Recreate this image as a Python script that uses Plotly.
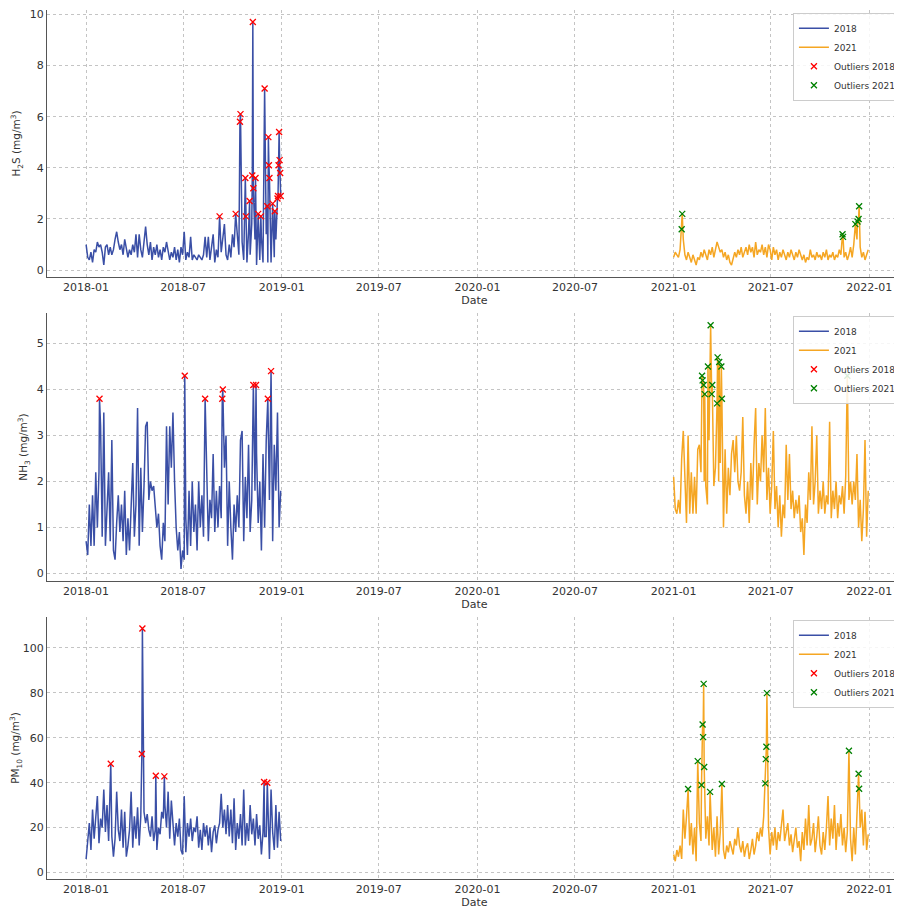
import pandas as pd
import plotly.graph_objects as go

# sampling grid: every 3rd day of the year (day-of-year offsets)
grid_doy = list(range(0, 364, 3))

##############
# H2S (mg/m3)
h2s_2018 = [
    1.0, 0.5, 0.4, 0.7, 0.3, 0.8, 0.7, 1.1, 0.9, 1.0,
    0.7, 0.2, 0.9, 1.0, 0.6, 0.9, 0.6, 0.8, 1.2, 1.5,
    1.1, 0.8, 1.0, 0.6, 1.2, 0.9, 0.5, 0.8, 0.6, 1.0,
    0.7, 1.4, 0.5, 1.4, 0.8, 0.5, 1.2, 1.7, 1.0, 0.6,
    1.1, 0.4, 0.9, 0.6, 1.0, 0.5, 0.8, 0.4, 0.9, 0.7,
    1.1, 0.8, 0.4, 0.7, 0.5, 0.9, 0.4, 0.8, 0.3, 0.9,
    0.6, 1.5, 0.4, 0.7, 0.5, 1.3, 0.4, 0.6, 0.5, 0.4,
    0.6, 0.5, 0.4, 0.6, 1.3, 0.5, 1.3, 0.4, 0.9, 1.4,
    0.3, 0.8, 0.5, 0.6, 0.7, 1.2, 1.8, 0.6, 0.4, 1.0,
    0.5, 1.4, 0.9, 1.0, 1.2, 0.6, 1.0, 1.1, 0.4, 1.2,
    0.3, 1.5, 0.6, 1.8, 1.0, 1.2, 0.2, 1.0, 0.4, 1.3,
    0.3, 1.2, 1.4, 0.3, 1.1, 0.3, 1.0, 0.5, 1.2, 1.0,
    1.0, 3.0,
]
h2s_2021 = [
    0.5, 0.7, 0.6, 0.5, 0.8, 1.0, 1.2, 0.6, 0.4, 0.7,
    0.5, 0.3, 0.6, 0.4, 0.2, 0.5, 0.4, 0.7, 0.5, 0.8,
    0.6, 0.4, 0.8, 0.6, 0.9, 0.5, 0.8, 1.1, 0.9, 0.7,
    0.8, 0.5, 0.7, 0.4, 0.6, 0.3, 0.2, 0.5, 0.7, 0.5,
    0.8, 0.6, 0.9, 0.5, 0.7, 0.9, 0.6, 1.0, 0.7, 0.9,
    0.5, 1.1, 0.6, 0.8, 0.7, 1.0, 0.6, 0.9, 0.5, 1.0,
    0.8, 0.4, 0.9, 0.6, 0.8, 0.4, 0.7, 0.5, 0.8, 0.6,
    0.4, 0.7, 0.5, 0.8, 0.6, 0.4, 0.7, 0.5, 0.8, 0.6,
    0.4, 0.6, 0.3, 0.5, 0.4, 0.8, 0.5, 0.6, 0.4, 0.7,
    0.5, 0.6, 0.4, 0.7, 0.5, 0.8, 0.4, 0.6, 0.5, 0.7,
    0.4, 0.6, 0.5, 0.8, 0.6, 1.0, 0.5, 0.7, 0.4, 0.6,
    0.9, 0.5, 1.0, 1.5, 1.2, 1.4, 0.9, 0.5, 0.7, 0.4,
    0.6, 0.8,
]
h2s_out18_doy = [249, 279, 287, 288, 297, 298, 305, 310, 311, 312, 316, 321, 326, 333,
                 338, 340, 341, 342, 348, 352, 357, 358, 359, 360, 361, 362, 363]
h2s_out18 = [2.1, 2.2, 5.8, 6.1, 3.6, 2.1, 2.7, 3.7, 9.7, 3.2, 3.6, 2.2, 2.1, 7.1,
             2.5, 5.2, 4.1, 3.6, 2.6, 2.3, 2.8, 2.9, 4.1, 5.4, 4.3, 3.8, 2.9]
h2s_out21_doy = [15, 16, 315, 316, 339, 343, 345, 346]
h2s_out21 = [1.6, 2.2, 1.4, 1.3, 1.8, 1.9, 2.0, 2.5]

##############
# NH3 (mg/m3)
nh3_2018 = [
    0.7, 0.4, 1.5, 0.6, 1.7, 0.6, 2.2, 1.0, 2.2, 3.2,
    0.8, 3.5, 0.6, 1.4, 2.2, 0.7, 2.9, 0.5, 0.3, 1.1,
    1.7, 0.9, 1.5, 0.7, 1.8, 0.4, 1.2, 0.5, 1.7, 2.4,
    0.8, 1.5, 3.6, 0.6, 2.3, 0.9, 1.9, 3.2, 3.3, 1.6,
    2.0, 1.8, 1.9, 1.5, 1.0, 1.3, 0.6, 0.3, 1.1, 0.7,
    3.2, 1.5, 3.2, 2.3, 3.5, 2.0, 1.0, 0.5, 0.9, 0.1,
    0.5, 0.3, 1.2, 0.4, 1.8, 0.6, 2.0, 0.9, 1.5, 0.5,
    2.0, 1.0, 1.7, 0.8, 2.4, 2.0, 0.7, 1.6, 1.2, 2.6,
    0.9, 1.8, 1.0, 1.9, 1.2, 2.5, 2.3, 3.0, 0.6, 2.0,
    1.0, 0.3, 1.5, 0.9, 1.7, 1.0, 2.9, 3.1, 0.7, 2.1,
    1.2, 2.8, 0.9, 1.6, 2.2, 1.8, 2.6, 1.1, 2.0, 0.5,
    2.6, 1.0, 2.9, 2.4, 1.6, 2.0, 0.7, 2.8, 1.8, 3.5,
    1.0, 1.8,
]
nh3_2021 = [
    2.1, 1.4, 1.3, 1.6, 1.3, 2.5, 3.1, 2.0, 1.1, 3.0,
    1.3, 2.2, 1.3, 2.1, 1.3, 2.7, 2.8, 2.2, 3.0, 2.0,
    1.9, 1.5, 2.9, 3.2, 2.3, 1.9, 2.3, 2.4, 2.0, 2.4,
    2.6, 1.0, 2.7, 1.3, 2.3, 1.7, 2.6, 2.9, 2.2, 3.0,
    2.0, 1.8, 2.2, 3.4, 1.7, 1.3, 2.0, 1.1, 2.4, 1.6,
    2.8, 3.6, 1.5, 2.4, 2.0, 3.0, 2.2, 3.6, 1.6, 2.3,
    1.3, 1.9, 3.1, 1.4, 1.9, 1.0, 1.7, 0.8, 1.5, 1.2,
    2.8, 1.6, 2.6, 1.4, 1.8, 1.2, 1.6, 1.3, 1.7, 0.9,
    1.2, 0.4, 1.5, 1.1, 2.2, 1.6, 3.2, 1.5, 2.0, 3.0,
    1.3, 1.8, 1.4, 2.0, 1.3, 1.7, 1.5, 3.3, 1.2, 1.8,
    1.4, 2.0, 1.2, 1.7, 1.5, 1.9, 1.3, 2.1, 2.0, 1.6,
    2.0, 1.5, 2.0, 1.6, 2.6, 1.0, 1.6, 0.7, 1.4, 2.9,
    0.8, 1.8,
]
nh3_out18_doy = [25, 184, 222, 254, 255, 312, 317, 339, 345]
nh3_out18 = [3.8, 4.3, 3.8, 3.8, 4.0, 4.1, 4.1, 3.8, 4.4]
nh3_out21_doy = [53, 54, 56, 58, 64, 69, 71, 72, 81, 82, 85, 89, 90, 324]
nh3_out21 = [4.3, 4.2, 4.1, 3.9, 4.5, 5.4, 3.9, 4.1, 3.7, 4.7, 4.6, 4.5, 3.8, 4.3]

##############
# PM10 (mg/m3)
pm10_2018 = [
    6, 13, 22, 10, 28, 15, 25, 34, 13, 24,
    20, 37, 18, 30, 14, 36, 16, 7, 15, 36,
    19, 14, 28, 11, 27, 7, 12, 19, 36, 11,
    25, 15, 29, 12, 25, 27, 27, 22, 26, 19,
    16, 25, 14, 19, 10, 20, 17, 27, 24, 30,
    20, 36, 15, 32, 20, 12, 22, 16, 24, 10,
    8, 34, 9, 22, 16, 24, 14, 20, 18, 25,
    11, 19, 10, 22, 16, 21, 12, 20, 9, 18,
    21, 13, 19, 22, 35, 20, 28, 17, 30, 16,
    28, 13, 33, 10, 22, 15, 26, 12, 37, 12,
    22, 14, 30, 17, 24, 12, 26, 15, 21, 8,
    18, 16, 16, 28, 6, 37, 18, 10, 30, 11,
    27, 14,
]
pm10_2021 = [
    8, 5, 10, 7, 12, 6, 28, 15, 25, 20,
    12, 22, 8, 20, 5, 22, 22, 14, 30, 28,
    15, 25, 12, 30, 10, 20, 7, 25, 8, 18,
    14, 10, 6, 12, 9, 14, 11, 8, 15, 12,
    20, 12, 9, 14, 7, 11, 13, 6, 10, 15,
    8, 12, 18, 14, 20, 16, 25, 28, 30, 20,
    8, 18, 12, 20, 10, 18, 14, 22, 28, 14,
    18, 22, 12, 17, 9, 14, 20, 11, 14, 5,
    18, 10, 24, 12, 30, 12, 15, 22, 9, 16,
    25, 12, 8, 18, 10, 20, 34, 12, 24, 15,
    30, 10, 22, 16, 26, 12, 20, 9, 18, 25,
    15, 5, 20, 8, 25, 30, 20, 28, 12, 27,
    10, 17,
]
pm10_out18_doy = [46, 104, 105, 130, 146, 332, 338]
pm10_out18 = [48.4, 52.8, 108.7, 43.1, 42.8, 40.3, 40.0]
pm10_out21_doy = [27, 45, 52, 54, 55, 56, 57, 68, 90, 171, 172, 173, 174, 327, 345, 346]
pm10_out21 = [37.2, 49.6, 39.0, 65.9, 60.3, 84.0, 47.0, 35.9, 39.4, 39.7, 50.5, 56.0,
              79.9, 54.2, 44.0, 37.3]

###############

panels = [
    ("H<sub>2</sub>S (mg/m<sup>3</sup>)", h2s_2018, h2s_2021,
     h2s_out18_doy, h2s_out18, h2s_out21_doy, h2s_out21, [-0.27, 10.17], 2),
    ("NH<sub>3</sub> (mg/m<sup>3</sup>)", nh3_2018, nh3_2021,
     nh3_out18_doy, nh3_out18, nh3_out21_doy, nh3_out21, [-0.165, 5.665], 1),
    ("PM<sub>10</sub> (mg/m<sup>3</sup>)", pm10_2018, pm10_2021,
     pm10_out18_doy, pm10_out18, pm10_out21_doy, pm10_out21, [-2.9, 113.8], 20),
]

# the page body adds an 8px margin, so the figure is 8px smaller than the window
W, H = 894, 901
y_domains = [[0.7014, 0.9978], [0.3640, 0.6615], [0.0333, 0.3241]]

BLUE = "#3a4fa6"
ORANGE = "#f5a623"
TEXT = "#333333"


def to_dates(year, doy):
    return pd.Timestamp(f"{year}-01-01") + pd.to_timedelta(doy, unit="D")


def build_line(year, values, out_doy, out_vals):
    base = pd.Series(values, index=to_dates(year, grid_doy))
    out = pd.Series(out_vals, index=to_dates(year, out_doy))
    return out.combine_first(base).sort_index(), out


fig = go.Figure()
layout = {}

for i, (label, v18, v21, od18, ov18, od21, ov21, yrange, dtick) in enumerate(panels):
    n = "" if i == 0 else str(i + 1)
    leg = "legend" + n
    line18, out18 = build_line(2018, v18, od18, ov18)
    line21, out21 = build_line(2021, v21, od21, ov21)

    common = dict(xaxis="x" + n, yaxis="y" + n, legend=leg)
    fig.add_trace(go.Scatter(x=line18.index, y=line18.values, mode="lines", name="2018",
                             line=dict(color=BLUE, width=1.5), **common))
    fig.add_trace(go.Scatter(x=line21.index, y=line21.values, mode="lines", name="2021",
                             line=dict(color=ORANGE, width=1.5), **common))
    fig.add_trace(go.Scatter(x=out18.index, y=out18.values, mode="markers", name="Outliers 2018",
                             marker=dict(symbol="x-thin", size=6, color="red",
                                         line=dict(color="red", width=1.3)), **common))
    fig.add_trace(go.Scatter(x=out21.index, y=out21.values, mode="markers", name="Outliers 2021",
                             marker=dict(symbol="x-thin", size=6, color="green",
                                         line=dict(color="green", width=1.3)), **common))

    layout["xaxis" + n] = dict(
        domain=[0.0436, 1.0], anchor="y" + n,
        range=["2017-10-20", "2022-03-03"],
        tickformat="%Y-%m", dtick="M6", tick0="2018-01-01",
        showgrid=True, gridcolor="#c4c4c4", griddash="dot", gridwidth=0.8,
        showline=True, linecolor="#555555", linewidth=1.2,
        ticks="", zeroline=False, automargin=False,
        tickfont=dict(size=11, color=TEXT),
        title=dict(text="Date", font=dict(size=11, color=TEXT), standoff=2),
    )
    layout["yaxis" + n] = dict(
        domain=y_domains[i], anchor="x" + n, range=yrange, dtick=dtick, tick0=0,
        showgrid=True, gridcolor="#c4c4c4", griddash="dot", gridwidth=0.8,
        showline=True, linecolor="#555555", linewidth=1.2,
        ticks="", zeroline=False, automargin=False,
        tickfont=dict(size=11, color=TEXT),
        title=dict(text=label, font=dict(size=10.5, color=TEXT), standoff=6),
    )
    layout[leg] = dict(
        x=0.878, xanchor="left", y=y_domains[i][1] - 0.003, yanchor="top",
        bgcolor="rgba(255,255,255,0.85)", bordercolor="#cccccc", borderwidth=1,
        font=dict(family="DejaVu Sans", size=9, color=TEXT),
        itemwidth=30, tracegroupgap=0,
    )

fig.update_layout(
    width=W, height=H,
    margin=dict(l=0, r=0, t=0, b=0),
    plot_bgcolor="white", paper_bgcolor="white",
    font=dict(family="DejaVu Sans", color=TEXT),
    showlegend=True,
    **layout,
)

fig.write_html("out.html")
